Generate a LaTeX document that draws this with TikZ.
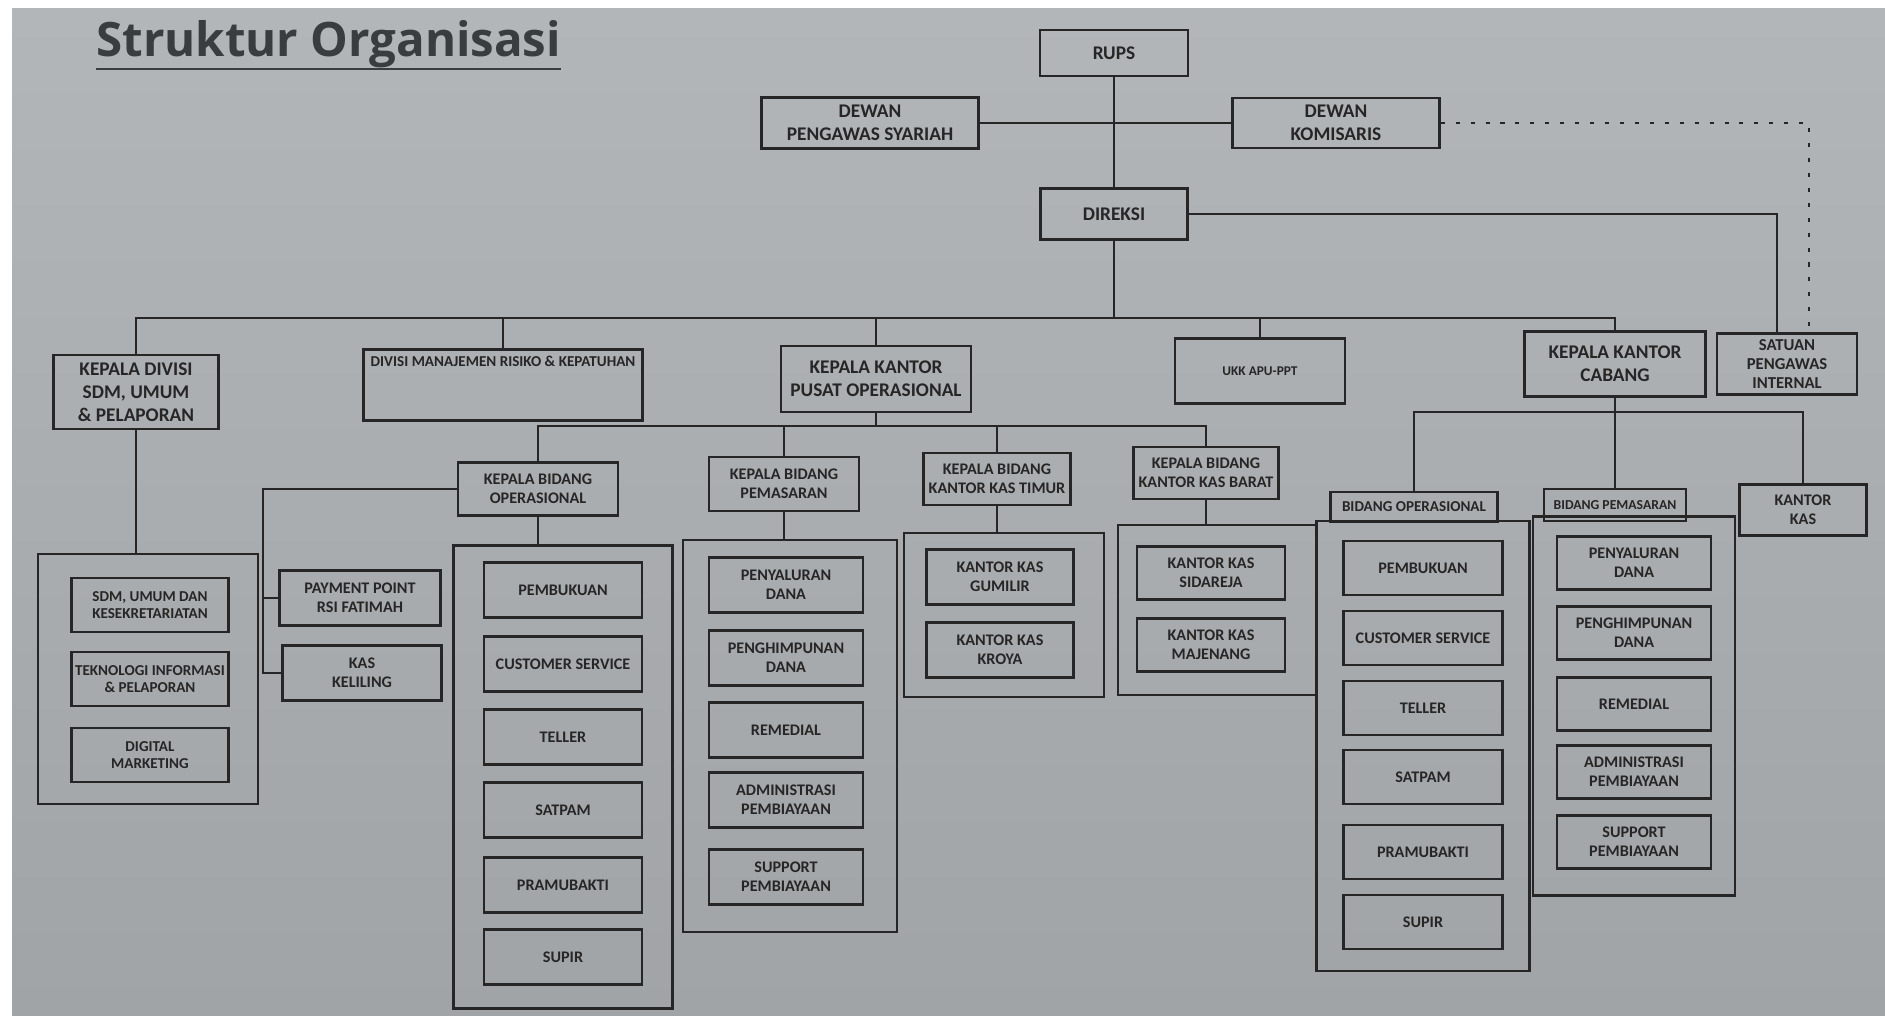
\documentclass[tikz,border=0pt]{standalone}
\usepackage{fontspec}
\newfontfamily\boxfont{Carlito}
\newfontfamily\titlefont{Open Sans}
\usetikzlibrary{calc}
\definecolor{papertop}{HTML}{B3B6B8}
\definecolor{paperbot}{HTML}{A0A4A6}
\definecolor{inkc}{HTML}{262626}
\definecolor{titlec}{HTML}{3A3D40}
\tikzset{
  sz/.style 2 args={minimum width=#1*0.02cm, minimum height=#2*0.02cm},
  bx/.style={draw=inkc, line width=1.4pt, inner sep=1pt, align=center, text=inkc},
  bigbx/.style={bx, font=\boxfont\bfseries\fontsize{11}{13}\selectfont},
  midbx/.style={bx, font=\boxfont\bfseries\fontsize{9.2}{10.6}\selectfont},
  sdmbx/.style={bx, font=\boxfont\bfseries\fontsize{8.6}{10}\selectfont},
  smlbx/.style={bx, font=\boxfont\bfseries\fontsize{8.6}{10}\selectfont},
  toptxt/.style={text height=0.2cm, text depth=0.94cm},
  grp/.style={draw=inkc, line width=1.5pt, inner sep=0pt},
  ln/.style={draw=inkc, line width=1.4pt},
  dotln/.style={draw=inkc, line width=1.4pt, dash pattern=on 2.3pt off 6.2pt},
}

\begin{document}
\begin{tikzpicture}[x=0.02cm, y=-0.02cm]
  \useasboundingbox (0,0) rectangle (1885,1016);
  \fill[white] (0,0) rectangle (1885,1016);
  \shade[top color=papertop, bottom color=paperbot] (12,9) rectangle (1885,1016);

  % judul
  \node[inner sep=0pt, anchor=base west, text=titlec,
        font=\titlefont\bfseries\fontsize{27}{31}\selectfont] (ttl) at (96,57) {Struktur Organisasi};
  \draw[titlec, line width=1.6pt] ([yshift=-0.24cm]ttl.base west) -- ([yshift=-0.24cm]ttl.base east);

  % pucuk
  \node[bigbx, sz={148}{46}] (rups) at (1114,53) {RUPS};
  \node[bigbx, sz={217}{51}] (dps) at (870,123) {DEWAN\\PENGAWAS SYARIAH};
  \node[bigbx, sz={207}{50}] (dk) at (1336,123) {DEWAN\\KOMISARIS};
  \node[bigbx, sz={147}{51}] (dir) at (1114,214) {DIREKSI};
  \node[bx, sz={140}{61}, font=\boxfont\bfseries\fontsize{9.5}{10.8}\selectfont] (spi) at (1787,364) {SATUAN\\PENGAWAS\\INTERNAL};

  \draw[ln] (rups) -- (dir);
  \draw[ln] (dps) -- (dk);
  \draw[ln] (dir) -| ([xshift=-0.2cm]spi.north);
  \draw[dotln] (dk) -| ([xshift=0.44cm]spi.north);

  % tingkat 2
  \coordinate (busA) at (1114,318);
  \node[bigbx, sz={165}{74}] (kdiv) at (136,392) {KEPALA DIVISI\\SDM, UMUM\\\& PELAPORAN};
  \node[smlbx, sz={279}{71}, toptxt] (dmr) at (503,385) {DIVISI MANAJEMEN RISIKO \& KEPATUHAN};
  \node[bigbx, sz={190}{66}] (kkpo) at (876,379) {KEPALA KANTOR\\PUSAT OPERASIONAL};
  \node[smlbx, sz={170}{65}, font=\boxfont\bfseries\fontsize{7.6}{9}\selectfont] (ukk) at (1260,371) {UKK APU-PPT};
  \node[bigbx, sz={181}{65}] (kkc) at (1615,364) {KEPALA KANTOR\\CABANG};

  \draw[ln] (dir) -- (dir |- busA);
  \draw[ln] (kdiv.north) |- (kkc.north |- busA) -- (kkc.north);
  \foreach \n in {dmr,kkpo,ukk}
    \draw[ln] (\n.north) -- (\n.north |- busA);

  % kantor pusat operasional
  \coordinate (busB) at (876,426);
  \node[midbx, sz={160}{53}] (kbo) at (538,489) {KEPALA BIDANG\\OPERASIONAL};
  \node[midbx, sz={150}{54}] (kbp) at (784,484) {KEPALA BIDANG\\PEMASARAN};
  \node[midbx, sz={147}{52}] (kbt) at (997,479) {KEPALA BIDANG\\KANTOR KAS TIMUR};
  \node[midbx, sz={145}{52}] (kbb) at (1206,473) {KEPALA BIDANG\\KANTOR KAS BARAT};
  \node[midbx, sz={161}{55}] (pp) at (360,598) {PAYMENT POINT\\RSI FATIMAH};
  \node[midbx, sz={159}{55}] (kk) at (362,673) {KAS\\KELILING};
  \coordinate (ppx) at (263,0);

  \draw[ln] (kkpo) -- (kkpo |- busB);
  \draw[ln] (kbo.north) |- (kbb.north |- busB) -- (kbb.north);
  \foreach \n in {kbp,kbt}
    \draw[ln] (\n.north) -- (\n.north |- busB);
  \draw[ln] (kbo.west) -| (ppx |- kk.west) -- (kk.west);
  \draw[ln] (pp.west) -- (ppx |- pp.west);

  % kelompok
  \node[grp, sz={220}{250}] (gsdm) at (148,679) {};
  \node[grp, sz={219}{463}] (gop) at (563,777) {};
  \node[grp, sz={214}{392}] (gpm) at (790,736) {};
  \node[grp, sz={200}{164}] (gkt) at (1004,615) {};
  \node[grp, sz={198}{170}] (gkb) at (1217,610) {};

  \draw[ln] (kdiv.south) -- (kdiv.south |- gsdm.north);
  \foreach \a/\b in {kbo/gop, kbp/gpm, kbt/gkt, kbb/gkb}
    \draw[ln] (\a.south) -- (\a.south |- \b.north);

  \foreach \t/\y [count=\k] in {{SDM, UMUM DAN\\KESEKRETARIATAN}/605, {TEKNOLOGI INFORMASI\\\& PELAPORAN}/679, {DIGITAL\\MARKETING}/755}
    \node[sdmbx, sz={157}{54}] (sdm\k) at (150,\y) {\t};
  \foreach \t/\y [count=\k] in {PEMBUKUAN/590, CUSTOMER SERVICE/664, TELLER/737, SATPAM/810, PRAMUBAKTI/885, SUPIR/957}
    \node[midbx, sz={158}{55}] (op\k) at (563,\y) {\t};
  \foreach \t/\y [count=\k] in {{PENYALURAN\\DANA}/585, {PENGHIMPUNAN\\DANA}/658, REMEDIAL/730, {ADMINISTRASI\\PEMBIAYAAN}/800, {SUPPORT\\PEMBIAYAAN}/877}
    \node[midbx, sz={154}{55}] (pm\k) at (786,\y) {\t};
  \foreach \t/\y [count=\k] in {{KANTOR KAS\\GUMILIR}/577, {KANTOR KAS\\KROYA}/650}
    \node[midbx, sz={147}{55}] (kt\k) at (1000,\y) {\t};
  \foreach \t/\y [count=\k] in {{KANTOR KAS\\SIDAREJA}/573, {KANTOR KAS\\MAJENANG}/645}
    \node[midbx, sz={148}{53}] (kb\k) at (1211,\y) {\t};

  % kantor cabang
  \coordinate (busC) at (1615,412);
  \node[grp, sz={213}{450}] (gcop) at (1423,746) {};
  \node[grp, sz={202}{379}] (gcpm) at (1634,706) {};
  \node[smlbx, sz={167}{30}] (hbo) at (1414,507) {BIDANG OPERASIONAL};
  \node[smlbx, sz={142}{32}, font=\boxfont\bfseries\fontsize{7.8}{9}\selectfont] (hbp) at (1615,505) {BIDANG PEMASARAN};
  \node[midbx, sz={127}{51}] (kkas) at (1803,510) {KANTOR\\KAS};

  \draw[ln] (kkc) -- (kkc |- busC);
  \draw[ln] (hbo.north) |- (kkas.north |- busC) -- (kkas.north);
  \draw[ln] (hbp.north) -- (hbp.north |- busC);

  \foreach \t/\y [count=\k] in {PEMBUKUAN/568, CUSTOMER SERVICE/638, TELLER/708, SATPAM/777, PRAMUBAKTI/852, SUPIR/922}
    \node[midbx, sz={159}{54}] (cop\k) at (1423,\y) {\t};
  \foreach \t/\y [count=\k] in {{PENYALURAN\\DANA}/563, {PENGHIMPUNAN\\DANA}/633, REMEDIAL/704, {ADMINISTRASI\\PEMBIAYAAN}/772, {SUPPORT\\PEMBIAYAAN}/842}
    \node[midbx, sz={154}{53}] (cpm\k) at (1634,\y) {\t};
\end{tikzpicture}
\end{document}
